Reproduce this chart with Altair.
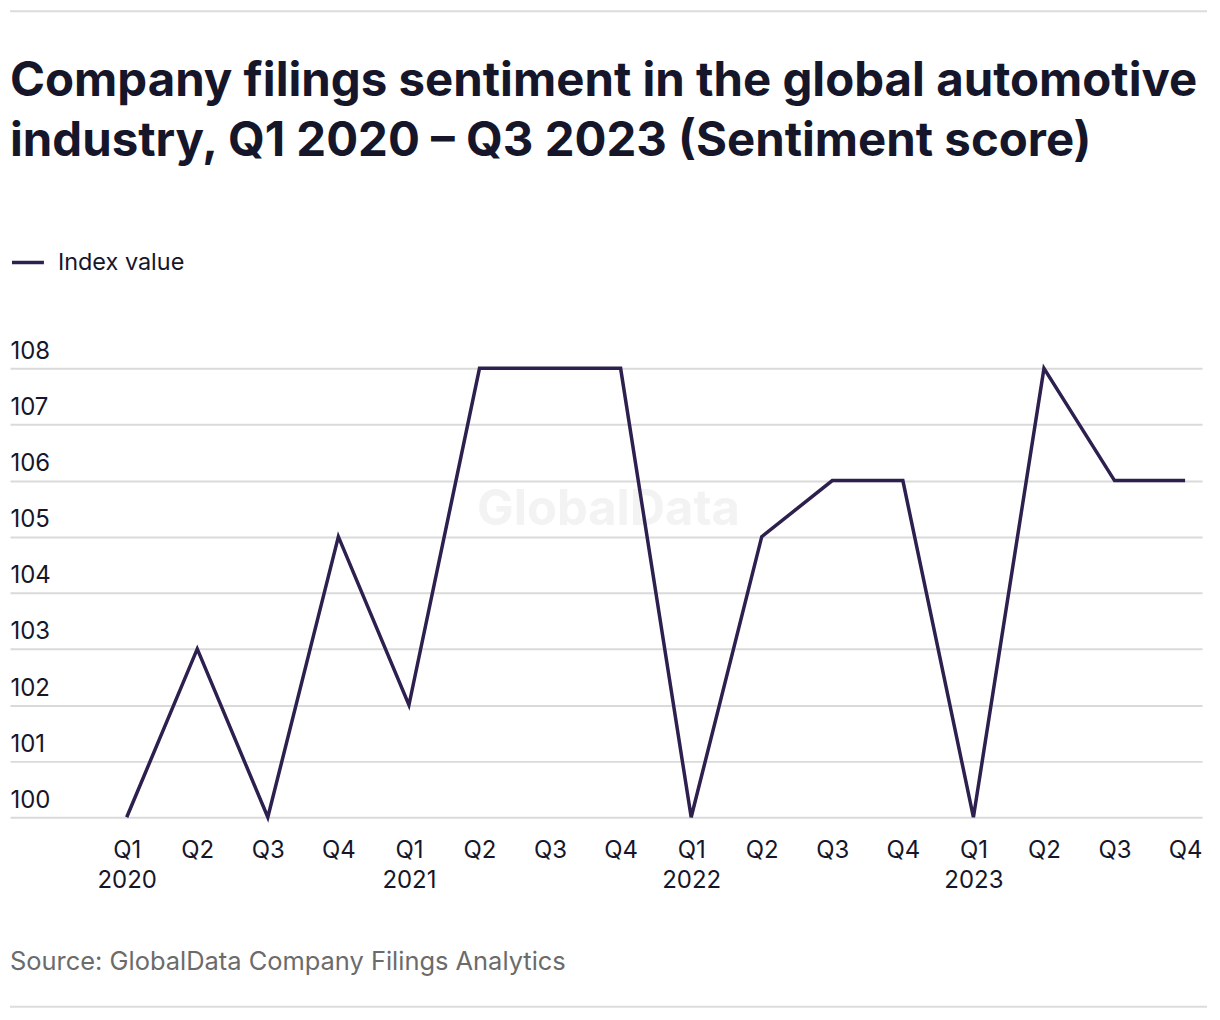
import json
import altair as alt
import pandas as pd

# ---- data ----
quarters = ["Q1", "Q2", "Q3", "Q4", "Q1", "Q2", "Q3", "Q4",
            "Q1", "Q2", "Q3", "Q4", "Q1", "Q2", "Q3", "Q4"]
years = [2020, 2020, 2020, 2020, 2021, 2021, 2021, 2021,
         2022, 2022, 2022, 2022, 2023, 2023, 2023, 2023]
values = [100, 103, 100, 105, 102, 108, 108, 108,
          100, 105, 106, 106, 100, 108, 106, 106]
series_name = "Index value"
title_lines = ["Company filings sentiment in the global automotive",
               "industry, Q1 2020 \u2013 Q3 2023 (Sentiment score)"]
source_text = "Source: GlobalData Company Filings Analytics"
watermark = "GlobalData"

df = pd.DataFrame({
    "idx": list(range(len(values))),
    "quarter": quarters,
    "year": years,
    "value": values,
    "series": [series_name] * len(values),
})

tick_labels = [[q, str(y)] if q == "Q1" else [q] for q, y in zip(quarters, years)]
label_expr = json.dumps(tick_labels) + "[datum.value]"

LINE = "#2d1f4e"
DARK = "#16162a"
GRID = "#dadada"
FONT = "Inter"

W, H = 1195, 450

line = alt.Chart(df).mark_line(strokeWidth=3.5, strokeJoin="miter").encode(
    x=alt.X("idx:Q",
            scale=alt.Scale(domain=[-1.654, 15.24], nice=False, zero=False),
            axis=alt.Axis(values=list(range(len(values))), labelExpr=label_expr,
                          grid=False, domain=False, ticks=False, title=None,
                          labelFontSize=24, labelColor=DARK, labelFont=FONT,
                          labelPadding=21, labelLineHeight=30, labelBaseline="top")),
    y=alt.Y("value:Q",
            scale=alt.Scale(domain=[100, 108], nice=False, zero=False),
            axis=alt.Axis(values=list(range(100, 109)), grid=True, gridColor=GRID,
                          gridWidth=2, domain=False, ticks=False, tickSize=0,
                          labelPadding=0, labelAlign="left", labelBaseline="alphabetic",
                          labelOffset=-10, labelFontSize=24, labelColor=DARK,
                          labelFont=FONT, title=None)),
    color=alt.Color("series:N", scale=alt.Scale(range=[LINE]),
                    legend=alt.Legend(orient="none", legendX=0, legendY=-124,
                                      title=None, symbolType="stroke",
                                      symbolSize=1024, symbolStrokeWidth=3.5,
                                      labelFontSize=23.5, labelColor=DARK,
                                      labelFont=FONT, labelOffset=12, padding=0)),
)

wm = alt.Chart(pd.DataFrame({"t": [watermark]})).mark_text(
    font=FONT, fontSize=49, fontWeight="bold", color="#f3f3f3",
    align="center", baseline="middle"
).encode(x=alt.value(600), y=alt.value(142), text="t:N")

src = alt.Chart(pd.DataFrame({"t": [source_text]})).mark_text(
    font=FONT, fontSize=25.5, color="#6b6b6b", align="left", baseline="middle"
).encode(x=alt.value(0), y=alt.value(145 + 450), text="t:N")

rules = alt.Chart(pd.DataFrame({"p": ["top", "bottom"], "yy": [-358, 640]})).mark_rule(
    color="#dcdcdc", strokeWidth=2
).encode(x=alt.value(0), x2=alt.value(1200), y=alt.Y("yy:Q", scale=None))

chart = alt.layer(wm, rules, line, src).properties(
    width=W, height=H,
    title=alt.TitleParams(text=title_lines, anchor="start", frame="group",
                          orient="top", font=FONT, fontSize=47.5, fontWeight="bold",
                          color=DARK, lineHeight=61, offset=0, dy=194,
                          baseline="alphabetic"),
    autosize=alt.AutoSizeParams(type="none"),
    padding={"left": 2, "top": 360, "right": 10, "bottom": 195},
).configure_view(stroke=None)

chart.save("out.html", embed_options={"renderer": "svg", "actions": False})
